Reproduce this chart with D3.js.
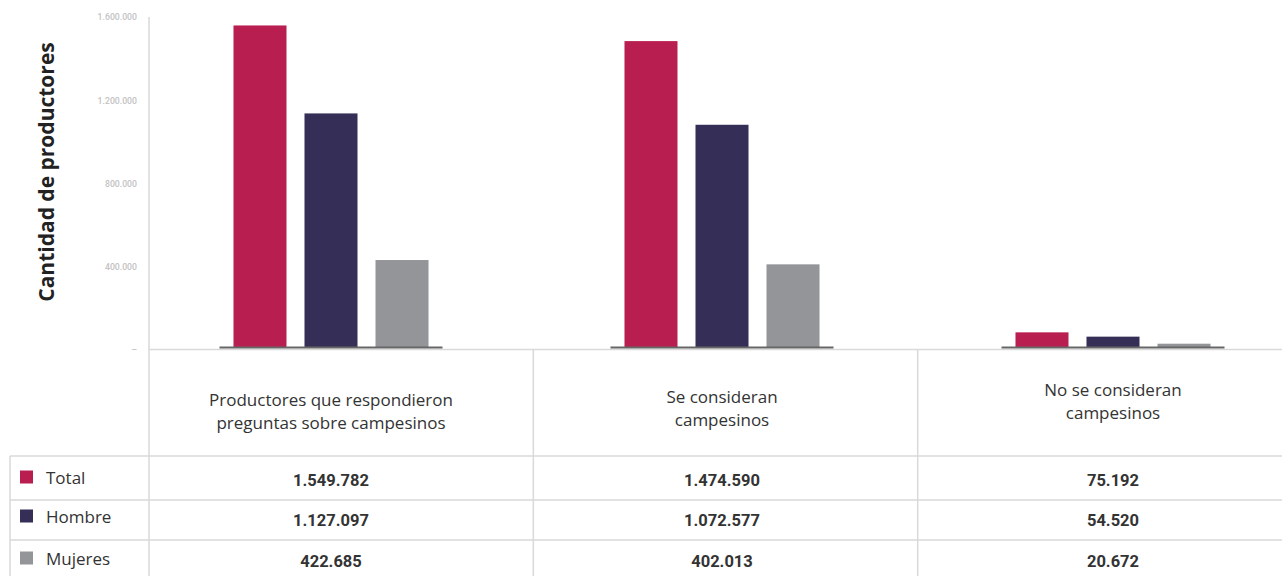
<!DOCTYPE html>
<html>
<head>
<meta charset="utf-8">
<script src="https://cdn.jsdelivr.net/npm/d3@7"></script>
<style>
  html, body { margin: 0; padding: 0; background: #fff; }
  svg { display: block; }
</style>
</head>
<body>
<svg id="chart" width="1282" height="576"></svg>
<script>
// ---------- data ----------
const categories = [
  ["Productores que respondieron", "preguntas sobre campesinos"],
  ["Se consideran", "campesinos"],
  ["No se consideran", "campesinos"]
];
const categoryKeys = ["resp", "si", "no"];
const seriesNames = ["Total", "Hombre", "Mujeres"];
const totalValues   = [1549782, 1474590, 75192];
const hombreValues  = [1127097, 1072577, 54520];
const mujeresValues = [422685, 402013, 20672];
const yTickValues = [0, 400000, 800000, 1200000, 1600000];
const yTickLabels = ["–", "400.000", "800.000", "1.200.000", "1.600.000"];
const yTitle = "Cantidad de productores";
const seriesColors = ["#B91E50", "#352E57", "#939598"];

const seriesValues = [totalValues, hombreValues, mujeresValues];
const fmt = v => d3.format(",")(v).replace(/,/g, ".");

// ---------- layout ----------
const W = 1282, H = 576;
const axisX = 149;
const y0 = 348;
const headerBaselines = [406, 403, 396];
const rowLines = [456, 500, 540];
const rowBaselines = [486, 526, 567];
const legendBaselines = [484, 523, 565];

const svg = d3.select("#chart");

const y = d3.scaleLinear().domain([0, 1600000]).range([y0, 15]);
const xCenter = d3.scalePoint().domain(categoryKeys).range([331, 1113]);
const xCol = d3.scaleBand().domain(categoryKeys).range([axisX, 1302]);
const xSeries = d3.scaleBand().domain(seriesNames).range([-111.5, 111.5])
  .paddingInner(0.2535).paddingOuter(0.197);

const lineColor = "#d9d9d9";

// y axis line
svg.append("line").attr("x1", axisX).attr("x2", axisX).attr("y1", 17).attr("y2", H)
  .attr("stroke", lineColor).attr("stroke-width", 1.5);

// baseline / gridline across
svg.append("line").attr("x1", axisX).attr("x2", W).attr("y1", y0 + 1.5).attr("y2", y0 + 1.5)
  .attr("stroke", lineColor).attr("stroke-width", 1.5);

// y ticks (custom labels)
const yAxis = d3.axisLeft(y).tickValues(yTickValues)
  .tickFormat((d, i) => yTickLabels[i]).tickSize(0).tickPadding(0);
const gy = svg.append("g").attr("transform", `translate(${axisX - 12},2)`).call(yAxis);
gy.select(".domain").remove();
gy.selectAll("text")
  .attr("font-family", "Roboto, sans-serif").attr("font-size", 8.7)
  .attr("font-weight", 500)
  .attr("fill", "#c3c3c3");

// y title
svg.append("text")
  .attr("transform", `translate(54,172) rotate(-90)`)
  .attr("text-anchor", "middle")
  .attr("font-family", "'Open Sans', sans-serif")
  .attr("font-weight", 700).attr("font-size", 21).attr("fill", "#222")
  .text(yTitle);

// bars
const groups = svg.append("g").selectAll("g").data(categoryKeys).join("g")
  .attr("transform", d => `translate(${xCenter(d)},0)`);

groups.each(function(key, ci) {
  const g = d3.select(this);
  g.selectAll("rect.bar").data(seriesNames).join("rect")
    .attr("class", "bar")
    .attr("x", s => xSeries(s))
    .attr("width", xSeries.bandwidth())
    .attr("y", (s, si) => y(seriesValues[si][ci]))
    .attr("height", (s, si) => y0 - y(seriesValues[si][ci]))
    .attr("fill", (s, si) => seriesColors[si]);
  g.append("line")
    .attr("x1", xSeries.range()[0]).attr("x2", xSeries.range()[1])
    .attr("y1", y0 - 0.5).attr("y2", y0 - 0.5)
    .attr("stroke", "#666").attr("stroke-width", 2);
  // header text
  const t = g.append("text").attr("text-anchor", "middle")
    .attr("font-family", "'Open Sans', sans-serif").attr("font-size", 17)
    .attr("fill", "#333");
  categories[ci].forEach((line, li) => {
    t.append("tspan").attr("x", 0).attr("y", headerBaselines[ci] + li * 23).text(line);
  });
  // values
  seriesNames.forEach((s, si) => {
    g.append("text").attr("text-anchor", "middle")
      .attr("x", 0).attr("y", rowBaselines[si])
      .attr("font-family", "Roboto, sans-serif").attr("font-weight", 700)
      .attr("font-size", 16.5).attr("fill", "#333")
      .text(fmt(seriesValues[si][ci]));
  });
});

// table grid
rowLines.forEach(ry => {
  svg.append("line").attr("x1", 10).attr("x2", W).attr("y1", ry).attr("y2", ry)
    .attr("stroke", lineColor).attr("stroke-width", 1.5);
});
svg.append("line").attr("x1", 10).attr("x2", 10).attr("y1", rowLines[0]).attr("y2", H)
  .attr("stroke", lineColor).attr("stroke-width", 1.5);
categoryKeys.slice(1).forEach(k => {
  svg.append("line").attr("x1", xCol(k)).attr("x2", xCol(k)).attr("y1", y0 + 1.5).attr("y2", H)
    .attr("stroke", lineColor).attr("stroke-width", 1.5);
});

// legend in table
seriesNames.forEach((s, si) => {
  svg.append("rect").attr("x", 20).attr("y", legendBaselines[si] - 13.5)
    .attr("width", 13).attr("height", 13).attr("fill", seriesColors[si]);
  svg.append("text").attr("x", 46).attr("y", legendBaselines[si])
    .attr("font-family", "'Open Sans', sans-serif").attr("font-size", 17)
    .attr("fill", "#333").text(s);
});
</script>
</body>
</html>
